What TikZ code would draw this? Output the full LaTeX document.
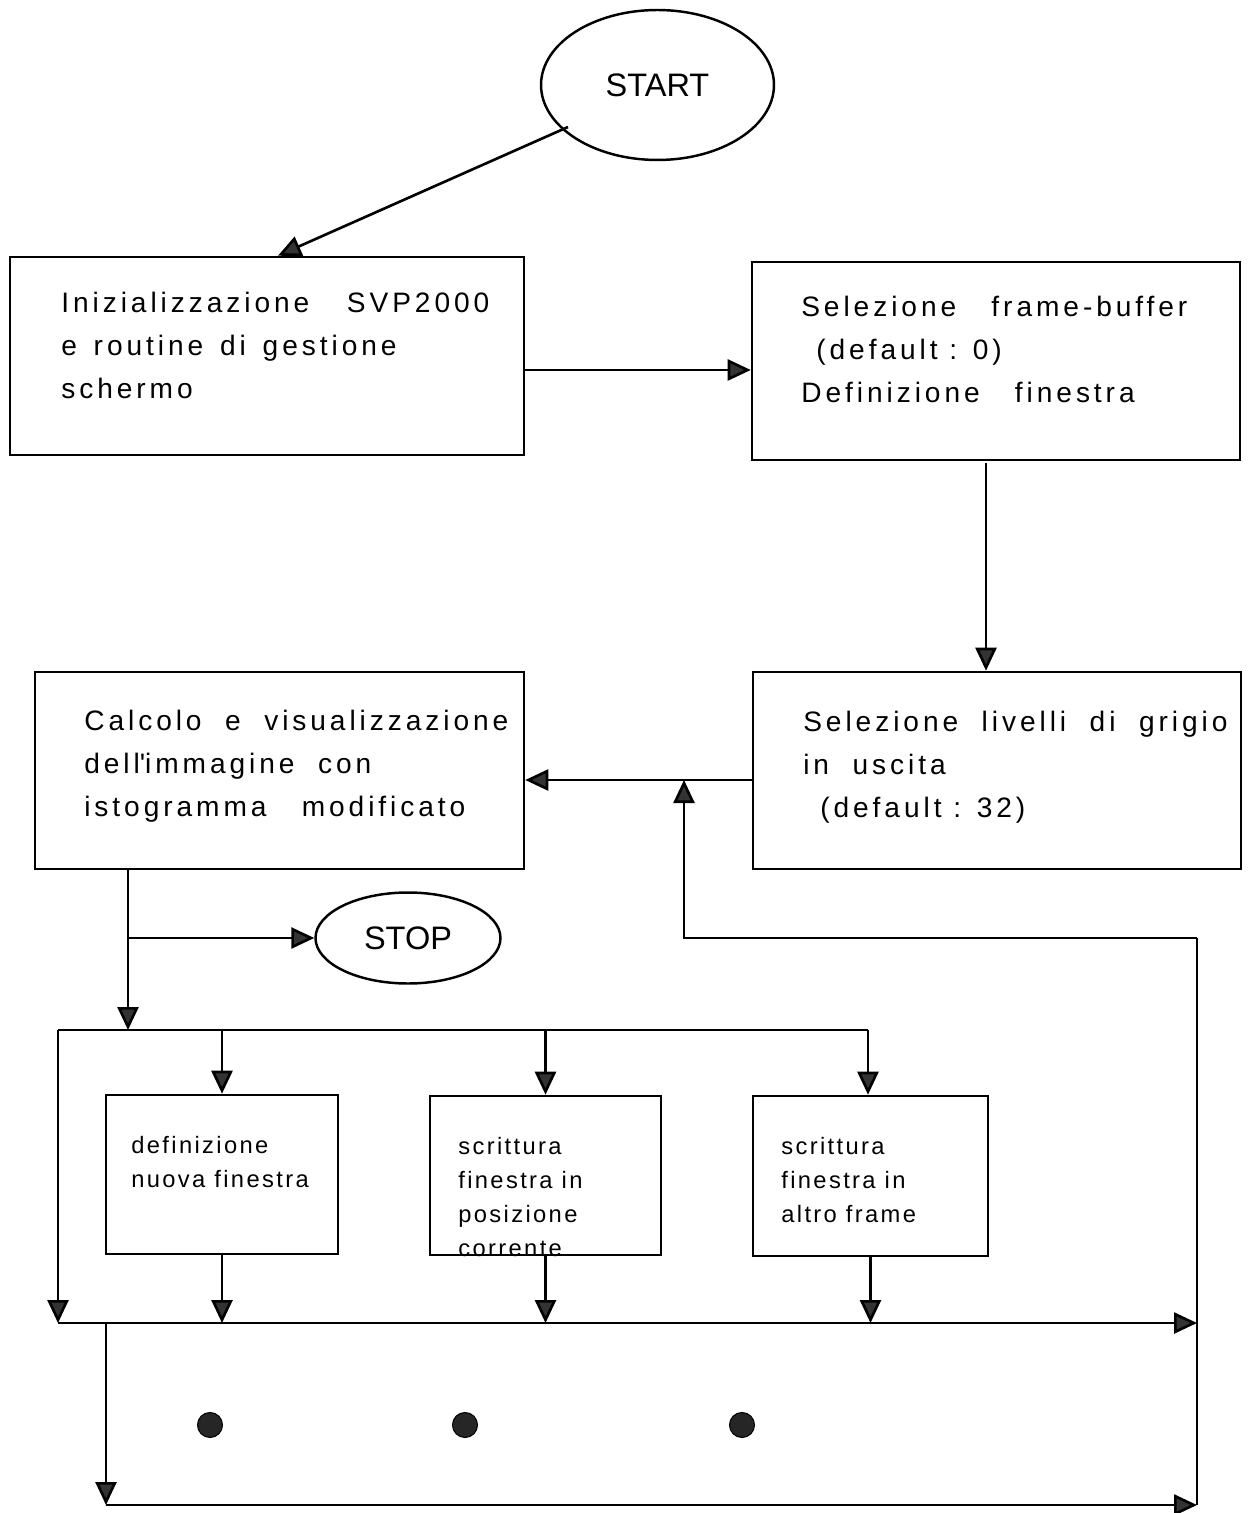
\documentclass[tikz,border=0pt]{standalone}
\usepackage{fontspec}
\setmainfont{Liberation Sans}
\newfontfamily\lsfont{Liberation Sans}[LetterSpace=14]
\newfontfamily\lssfont{Liberation Sans}[LetterSpace=10]
\usetikzlibrary{arrows.meta,shapes.geometric,calc}
\begin{document}
\begin{tikzpicture}[x=0.02cm,y=-0.02cm, line width=1.5pt,
  box/.style={draw, rectangle, inner sep=0pt, line width=1.5pt},
  oval/.style={draw, ellipse, inner sep=0pt, line width=1.4pt, font=\fontsize{18.5pt}{20pt}\selectfont},
  big/.style={anchor=north west, inner sep=0pt, align=left, font=\lsfont\fontsize{16pt}{24.4pt}\selectfont},
  small/.style={anchor=north west, inner sep=0pt, align=left, font=\lssfont\fontsize{13.5pt}{19.3pt}\selectfont},
  arr/.style={-{Triangle[length=0.46cm,width=0.42cm,fill=black!80]}},
  dot/.style={circle, fill=black!85, draw=black, line width=0.6pt, inner sep=0pt, minimum size=0.5cm}
]
\useasboundingbox (0,0) rectangle (1251,1513);

% nodes
\node[oval, minimum width=4.66cm, minimum height=3cm] (start) at (657.5,85) {START};
\node[box, minimum width=10.28cm, minimum height=3.96cm] (b1) at (267,356) {};
\node[box, minimum width=9.76cm, minimum height=3.96cm] (b2) at (996,361) {};
\node[box, minimum width=9.76cm, minimum height=3.94cm] (b3) at (997,770.5) {};
\node[box, minimum width=9.78cm, minimum height=3.94cm] (b4) at (279.5,770.5) {};
\node[oval, minimum width=3.7cm, minimum height=1.82cm] (stop) at (408,938) {STOP};
\node[box, minimum width=4.64cm, minimum height=3.18cm] (b5) at (222,1174.5) {};
\node[box, minimum width=4.62cm, minimum height=3.18cm] (b6) at (545.5,1175.5) {};
\node[box, minimum width=4.7cm, minimum height=3.2cm] (b7) at (870.5,1176) {};

% texts
\node[big] (t1) at (60,287) {\rule{0pt}{14pt}Inizializzazione\ \ \hspace{0.5em}SVP2000\\e \hspace{0.18em}routine \hspace{0.18em}di \hspace{0.18em}gestione\\schermo};
\node[big] (t2) at (800,291) {\rule{0pt}{14pt}Selezione\ \ \ frame-buffer\\\hspace*{0.3cm}(default : 0)\\Definizione\ \ \ finestra};
\node[big] (t3) at (802,706) {\rule{0pt}{14pt}Selezione\ \ livelli\ \ di\ \ grigio\\in\ \ uscita\\\hspace*{0.34cm}(default : 32)};
\node[big] (t4) at (83,705) {\rule{0pt}{14pt}Calcolo\ \ e\ \ visualizzazione\\dell\textquotesingle immagine\ \ con\\istogramma\ \ \ modificato};
\node[small] (t5) at (130,1131) {\rule{0pt}{12pt}definizione\\nuova finestra};
\node[small] (t6) at (457,1132) {\rule{0pt}{12pt}scrittura\\finestra in\\posizione\\corrente};
\node[small] (t7) at (780,1132) {\rule{0pt}{12pt}scrittura\\finestra in\\altro frame};

% dots
\node[dot] (d1) at (210,1425) {};
\node[dot] (d2) at (465,1425) {};
\node[dot] (d3) at (742,1425) {};

% coordinates
\coordinate (s0) at (568,127);
\coordinate (s1) at (278,257);
\coordinate (yA) at (0,370);
\coordinate (xB) at (986,0);
\coordinate (yC) at (0,780);
\coordinate (fR) at (1197,938);
\coordinate (fL) at (684,938);
\coordinate (rB) at (1197,1505);
\coordinate (xD) at (128,0);
\coordinate (jS) at (128,938);
\coordinate (busT) at (58,1030);
\coordinate (busTR) at (868,1030);
\coordinate (busB) at (58,1323);
\coordinate (busBR) at (1197,1323);
\coordinate (lB) at (106,1323);
\coordinate (lB2) at (106,1505);

% connectors
\draw[arr] (s0) -- (s1 |- b1.north);
\draw[arr] (b1.east |- yA) -- (b2.west |- yA);
\draw[arr] ($(b2.south -| xB)+(0,2)$) -- (b3.north -| xB);
\draw[arr] (b3.west |- yC) -- (b4.east |- yC);
\draw[arr] (fR) -- (fL) -- (fL |- yC);
\draw (fR) -- (rB);
\draw[arr] (b4.south -| xD) -- (xD |- busT);
\draw[arr] (jS) -- (stop.west);
\draw (busT) -- (busTR);
\draw[arr] (b5.north |- busT) -- (b5.north);
\draw[arr] (b6.north |- busT) -- (b6.north);
\draw[arr] (busTR) -- (busTR |- b7.north);
\draw[arr] (busT) -- (busB);
\draw[arr] (b5.south) -- (b5.south |- busB);
\draw[arr] (b6.south) -- (b6.south |- busB);
\draw[arr] (b7.south) -- (b7.south |- busB);
\draw[arr] (busB) -- (busBR);
\draw[arr] (lB) -- (lB2);
\draw[arr] (lB2) -- (rB);
\end{tikzpicture}
\end{document}
